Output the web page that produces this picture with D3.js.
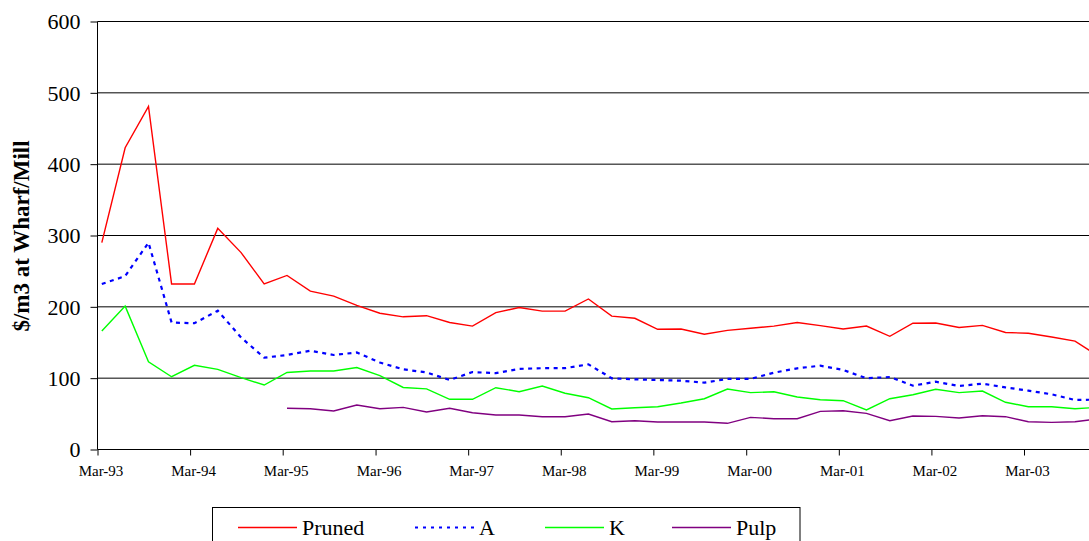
<!DOCTYPE html>
<html>
<head>
<meta charset="utf-8">
<script src="https://cdn.jsdelivr.net/npm/d3@7"></script>
<style>
  html, body { margin: 0; padding: 0; background: #fff; overflow: hidden; }
  svg { display: block; font-family: "Liberation Serif", "Times New Roman", serif; }
</style>
</head>
<body>
<svg id="chart" width="1089" height="541"></svg>
<script>
// ---------- data ----------
const quarters = [
  "Mar-93","Jun-93","Sep-93","Dec-93","Mar-94","Jun-94","Sep-94","Dec-94",
  "Mar-95","Jun-95","Sep-95","Dec-95","Mar-96","Jun-96","Sep-96","Dec-96",
  "Mar-97","Jun-97","Sep-97","Dec-97","Mar-98","Jun-98","Sep-98","Dec-98",
  "Mar-99","Jun-99","Sep-99","Dec-99","Mar-00","Jun-00","Sep-00","Dec-00",
  "Mar-01","Jun-01","Sep-01","Dec-01","Mar-02","Jun-02","Sep-02","Dec-02",
  "Mar-03","Jun-03","Sep-03","Dec-03"
];
const pruned = [290,423,481,232,232,310,276,232,244,222,215,202,191,186,187.6,178,
  173,192,199,194,194,211,187,184,168.5,169,161.5,167,170,173,178,173.6,
  169,173,158.7,177,177.3,171,174,164,163,157.7,152,131];
const gradeA = [232,243,290,178,177,194.6,157,128.7,132.5,138.5,132.5,136,122,112.4,108,97.4,
  108.6,107,113,114,114,119.4,99.8,98.4,97.4,96.5,93.7,99,99,107.7,113.8,117.5,
  111.5,99.8,101.6,89.5,95,89,92.3,87,82.5,77.4,69.4,70];
const gradeK = [166,201,123,102,118,112.4,100.7,90.4,108,110,110,115,103.5,87,85,70.4,
  70.4,86.6,81,89,78.8,72.6,56.8,58.6,60,65.2,71.2,84.8,79.7,81,73.6,69.8,
  68.4,55.4,71.2,76.8,84.4,79.7,82,66.2,60,60,57.2,59];
const pulp = [null,null,null,null,null,null,null,null,
  57.8,57.2,54,62.4,57.2,59,52.6,57.8,51.6,48.4,48.4,46,46,49.8,39,40.4,
  38.6,38.6,38.6,36.7,45,43.2,43.2,53.5,54.4,50.7,40.4,47,46.5,44.2,47.4,46,
  39,38,39,43];
const yTicks = [0,100,200,300,400,500,600];
const xTickLabels = ["Mar-93","Mar-94","Mar-95","Mar-96","Mar-97","Mar-98","Mar-99","Mar-00","Mar-01","Mar-02","Mar-03"];
const seriesNames = ["Pruned","A","K","Pulp"];
const seriesColors = ["#ff0000","#0000ff","#00ff00","#800080"];

// ---------- layout ----------
const svg = d3.select("#chart");
const plotLeft = 97.5, plotTop = 21.5, plotBottom = 449.5;
const parse = d3.timeParse("%b-%y");
const pxPerYear = 92.67;
const x = d3.scaleTime().domain([parse("Mar-93"), parse("Mar-04")])
  .range([plotLeft, plotLeft + pxPerYear * 11]);
const y = d3.scaleLinear().domain([0, 600]).range([plotBottom, plotTop]);
// points sit mid-month within each quarter's label month
const pointDate = q => d3.timeDay.offset(parse(q), 17);

// gridlines
svg.append("g")
  .selectAll("line").data(yTicks.filter(d => d > 0)).join("line")
  .attr("x1", plotLeft).attr("x2", 1200)
  .attr("y1", d => y(d)).attr("y2", d => y(d))
  .attr("stroke", "#000").attr("stroke-width", 1);

// y axis
const yAxis = svg.append("g").attr("transform", `translate(${plotLeft},0)`)
  .call(d3.axisLeft(y).tickValues(yTicks).tickSize(7).tickPadding(10).tickFormat(d3.format("d")));
yAxis.select(".domain").attr("stroke", "#000").attr("d", `M0,${plotTop}V${plotBottom}`);
yAxis.selectAll(".tick line").attr("stroke", "#000");
yAxis.selectAll("text").attr("font-size", 22).attr("fill", "#000")
  .attr("font-family", "Liberation Serif").attr("dy", "0.34em");

// x axis
const xAxis = svg.append("g").attr("transform", `translate(0,${plotBottom})`)
  .call(d3.axisBottom(x).tickValues(xTickLabels.map(parse)).tickSize(6).tickPadding(10)
    .tickFormat(d3.timeFormat("%b-%y")));
xAxis.select(".domain").attr("stroke", "#000").attr("d", `M${plotLeft},0H1200`);
xAxis.selectAll(".tick line").attr("stroke", "#000");
xAxis.selectAll("text").attr("font-size", 15).attr("fill", "#000")
  .attr("font-family", "Liberation Serif").attr("dx", 3).attr("dy", "0.71em");

// y label
svg.append("text")
  .attr("transform", "translate(29,236) rotate(-90)")
  .attr("text-anchor", "middle")
  .attr("font-weight", "bold")
  .attr("font-size", 23)
  .style("font-family", "'Liberation Serif', serif")
  .text("$/m3 at Wharf/Mill");

// lines
const allSeries = [pruned, gradeA, gradeK, pulp];
const line = d3.line()
  .defined(d => d.v != null)
  .x(d => x(pointDate(d.q)))
  .y(d => y(d.v));
const plot = svg.append("g");
allSeries.forEach((vals, i) => {
  const pts = quarters.map((q, j) => ({ q, v: vals[j] }));
  plot.append("path")
    .attr("d", line(pts))
    .attr("fill", "none")
    .attr("stroke", seriesColors[i])
    .attr("stroke-width", i === 1 ? 2.2 : 1.4)
    .attr("stroke-dasharray", i === 1 ? "4,4.5" : null)
    .attr("stroke-linejoin", "miter");
});

// legend
const lg = svg.append("g");
lg.append("rect").attr("x", 212.5).attr("y", 507.5).attr("width", 587.5).attr("height", 60)
  .attr("fill", "#fff").attr("stroke", "#000").attr("stroke-width", 1);
const legendX = [238, 415, 545, 672];
seriesNames.forEach((name, i) => {
  lg.append("line")
    .attr("x1", legendX[i]).attr("x2", legendX[i] + 59)
    .attr("y1", 527.5).attr("y2", 527.5)
    .attr("stroke", seriesColors[i])
    .attr("stroke-width", i === 1 ? 2.2 : 1.4)
    .attr("stroke-dasharray", i === 1 ? "3,5" : null);
  lg.append("text")
    .attr("x", legendX[i] + 64).attr("y", 535)
    .attr("font-size", 22).attr("font-family", "Liberation Serif")
    .text(name);
});
</script>
</body>
</html>
